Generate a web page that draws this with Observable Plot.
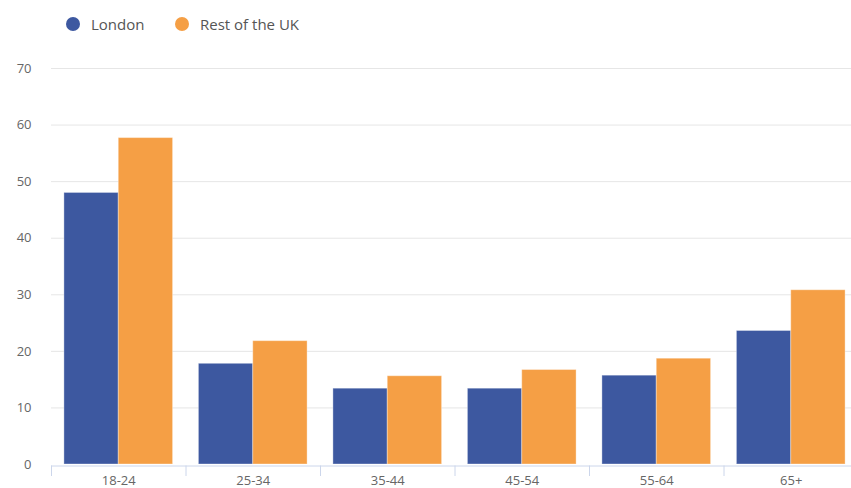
<!DOCTYPE html>
<html>
<head>
<meta charset="utf-8">
<script src="https://cdn.jsdelivr.net/npm/d3@7"></script>
<script src="https://cdn.jsdelivr.net/npm/@observablehq/plot@0.6"></script>
<style>
  html, body { margin: 0; padding: 0; background: #fff; overflow: hidden; }
  body { width: 851px; height: 488px; font-family: "Open Sans", "Noto Sans", sans-serif; }
  #legend { height: 45px; position: relative; font-size: 15px; color: #555; }
  .item { position: absolute; top: 14px; height: 20px; display: flex; align-items: center; white-space: nowrap; }
  .dot { width: 14px; height: 14px; border-radius: 50%; display: inline-block; margin-right: 11px; }
  #chart svg { display: block; overflow: visible; }
</style>
</head>
<body>
<div id="legend"></div>
<div id="chart"></div>
<script>
const ageGroups = ["18-24", "25-34", "35-44", "45-54", "55-64", "65+"];
const london = [48, 17.8, 13.4, 13.4, 15.7, 23.6];
const restOfUK = [57.7, 21.8, 15.6, 16.7, 18.7, 30.8];
const seriesNames = ["London", "Rest of the UK"];
const seriesColors = ["#3d58a0", "#f59f45"];
const yTicks = [0, 10, 20, 30, 40, 50, 60, 70];

const rows = [];
ageGroups.forEach((age, i) => {
  rows.push({age, i, series: seriesNames[0], value: london[i]});
  rows.push({age, i, series: seriesNames[1], value: restOfUK[i]});
});

// legend
const legend = document.getElementById("legend");
const legendX = [66, 175];
seriesNames.forEach((name, k) => {
  const it = document.createElement("div");
  it.className = "item";
  it.style.left = legendX[k] + "px";
  it.innerHTML = `<span class="dot" style="background:${seriesColors[k]}"></span><span>${name}</span>`;
  legend.appendChild(it);
});

const pad = 0.096;       // group inset within each age band
const half = (1 - 2 * pad) / 2;
const boundaries = d3.range(ageGroups.length + 1);
const centers = ageGroups.map((_, i) => i + 0.5);

const chart = Plot.plot({
  width: 851,
  height: 443,
  marginTop: 23,
  marginBottom: 24,
  marginLeft: 51,
  marginRight: -7,
  style: {fontFamily: "'Open Sans', 'Noto Sans', sans-serif", fontSize: "13px", color: "#666", background: "transparent"},
  x: {domain: [0, ageGroups.length], ticks: centers, tickFormat: v => ageGroups[Math.floor(v)], tickSize: 0, tickPadding: 11, label: null},
  y: {domain: [0, 70], ticks: yTicks, tickSize: 0, tickPadding: 20, label: null},
  color: {domain: seriesNames, range: seriesColors},
  marks: [
    Plot.ruleY(yTicks.filter(t => t > 0), {stroke: "#e6e6e6", strokeWidth: 1, x1: 0, x2: ageGroups.length}),
    Plot.rectY(rows, {
      x1: d => d.i + pad + (d.series === seriesNames[0] ? 0 : half),
      x2: d => d.i + pad + (d.series === seriesNames[0] ? half : 2 * half),
      y1: 0,
      y2: "value",
      fill: "series",
      stroke: "#fff",
      strokeOpacity: 0.35,
      strokeWidth: 1
    }),
    Plot.ruleY([0], {stroke: "#ccd6eb", strokeWidth: 1, x1: 0, x2: ageGroups.length, dy: 1.5}),
    Plot.ruleX(boundaries, {x: d => d, y1: 0, y2: 0, insetTop: 1.5, insetBottom: -12, stroke: "#ccd6eb", strokeWidth: 1})
  ]
});
document.getElementById("chart").appendChild(chart);
</script>
</body>
</html>
